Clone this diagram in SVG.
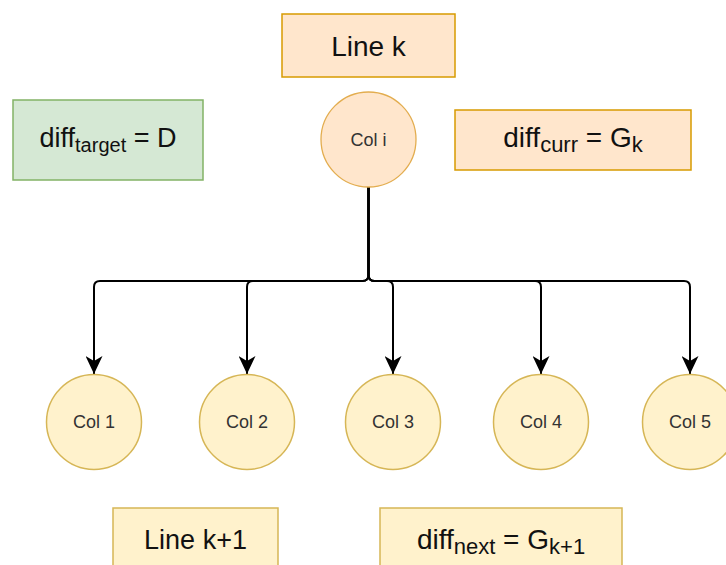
<svg xmlns="http://www.w3.org/2000/svg" width="726" height="565" viewBox="0 0 726 565">
<defs>
<style>
.orange{fill:#ffe6cc;stroke:#d79b00;stroke-width:1.5}
.orangec{fill:#ffe6cc;stroke:#e3ad4f;stroke-width:1.3}
.yellow{fill:#fff2cc;stroke:#d6b656;stroke-width:1.5}
.green{fill:#d5e8d4;stroke:#82b366;stroke-width:1.5}
.big{font-family:"Liberation Sans",Arial,sans-serif;fill:#111;text-anchor:middle}
.col{font-family:"Liberation Sans",Arial,sans-serif;font-size:18px;fill:#333;text-anchor:middle}
.edge{fill:none;stroke:#000;stroke-width:2;marker-end:url(#arr)}
</style>
<marker id="arr" viewBox="0 0 18 17" refX="18" refY="8.5" markerWidth="18" markerHeight="17" markerUnits="userSpaceOnUse" orient="auto">
<path d="M0 0 L18 8.5 L0 17 L5 8.5 Z" fill="#000"/>
</marker>
</defs>
<rect width="726" height="565" fill="#fff"/>
<g id="connectors">
<path class="edge" d="M368.5 187 V275 Q368.5 281 362.5 281 H100 Q94 281 94 287 V374"/>
<path class="edge" d="M368.5 187 V275 Q368.5 281 362.5 281 H253 Q247 281 247 287 V374"/>
<path class="edge" d="M368.5 187 V275 Q368.5 281 374.5 281 H387 Q393 281 393 287 V374"/>
<path class="edge" d="M368.5 187 V275 Q368.5 281 374.5 281 H535 Q541 281 541 287 V374"/>
<path class="edge" d="M368.5 187 V275 Q368.5 281 374.5 281 H684 Q690 281 690 287 V374"/>
</g>
<g id="line-k">
<rect class="orange" x="282" y="14" width="173" height="63"/>
<text class="big" x="368.5" y="56" font-size="28">Line k</text>
</g>
<g id="diff-target">
<rect class="green" x="13" y="100" width="190" height="80"/>
<text class="big" x="108" y="147" font-size="27">diff<tspan font-size="20" dy="5">target</tspan><tspan dy="-5"> = D</tspan></text>
</g>
<g id="col-i">
<circle class="orangec" cx="368.5" cy="139.5" r="47.5"/>
<text class="col" x="368.5" y="146">Col i</text>
</g>
<g id="diff-curr">
<rect class="orange" x="455" y="110" width="236" height="60"/>
<text class="big" x="573" y="147" font-size="28">diff<tspan font-size="22" dy="5">curr</tspan><tspan dy="-5"> = G</tspan><tspan font-size="22" dy="5">k</tspan></text>
</g>
<g id="col-1">
<circle class="yellow" cx="94" cy="422" r="47.5"/>
<text class="col" x="94" y="428">Col 1</text>
</g>
<g id="col-2">
<circle class="yellow" cx="247" cy="422" r="47.5"/>
<text class="col" x="247" y="428">Col 2</text>
</g>
<g id="col-3">
<circle class="yellow" cx="393" cy="422" r="47.5"/>
<text class="col" x="393" y="428">Col 3</text>
</g>
<g id="col-4">
<circle class="yellow" cx="541" cy="422" r="47.5"/>
<text class="col" x="541" y="428">Col 4</text>
</g>
<g id="col-5">
<circle class="yellow" cx="690" cy="422" r="47.5"/>
<text class="col" x="690" y="428">Col 5</text>
</g>
<g id="line-k1">
<rect class="yellow" x="113" y="508" width="165" height="70"/>
<text class="big" x="195.5" y="549" font-size="27">Line k+1</text>
</g>
<g id="diff-next">
<rect class="yellow" x="380" y="508" width="242" height="70"/>
<text class="big" x="501" y="549" font-size="28">diff<tspan font-size="22" dy="5">next</tspan><tspan dy="-5"> = G</tspan><tspan font-size="22" dy="5">k+1</tspan></text>
</g>
</svg>
